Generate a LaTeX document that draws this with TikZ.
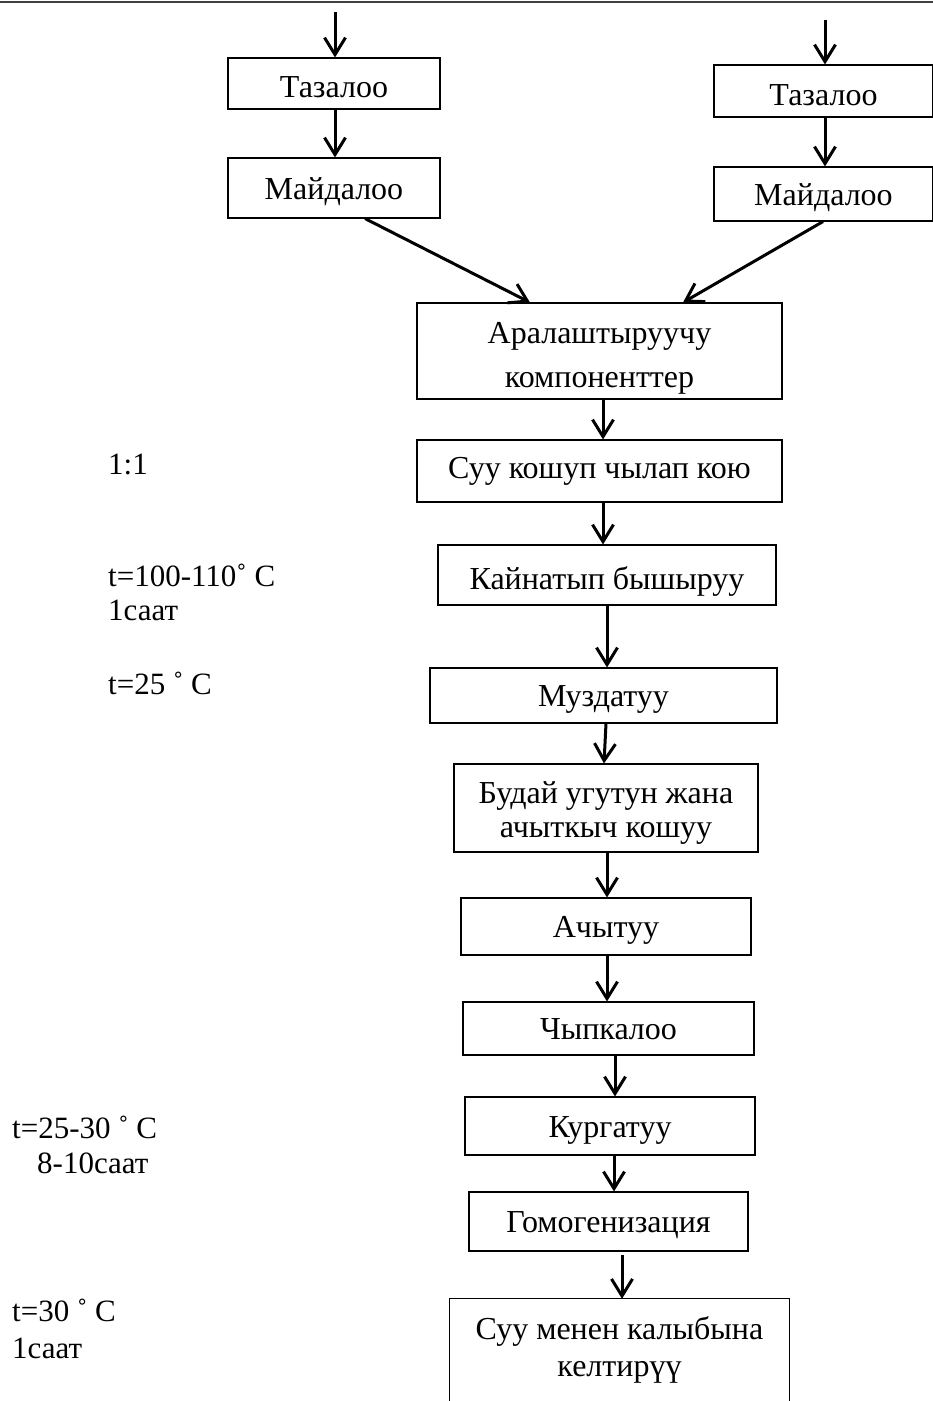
\documentclass[tikz,border=0pt]{standalone}
\usepackage{fontspec}
\setmainfont{Liberation Serif}
\usetikzlibrary{arrows.meta}
\begin{document}
\begin{tikzpicture}[x=1pt,y=-1pt,
  box/.style={draw, line width=1.1pt, inner sep=0pt, align=center, font=\fontsize{32}{38}\selectfont},
  one/.style={text height=25pt, text depth=3pt},
  low/.style={text height=30pt, text depth=2pt},
  arr/.style={line width=3pt, -{Straight Barb[length=17pt,width=21pt]}},
  lbl/.style={anchor=base west, inner sep=0pt, font=\fontsize{31}{37}\selectfont}]
\clip (0,0) rectangle (933,1401);
\fill[white] (0,0) rectangle (933,1401);
\draw[line width=2pt, black!75] (0,2) -- (933,2);

% left branch
\node[box, low, minimum width=212pt, minimum height=51pt] (t1) at (334,83.5) {Тазалоо};
\node[box, one, minimum width=212pt, minimum height=60pt] (m1) at (334,188) {Майдалоо};
% right branch
\node[box, low, minimum width=219pt, minimum height=52pt] (t2) at (823.5,91) {Тазалоо};
\node[box, one, minimum width=219pt, minimum height=54pt] (m2) at (823.5,194) {Майдалоо};

% main column
\node[box, minimum width=365pt, minimum height=96pt, font=\fontsize{32}{44}\selectfont] (ar) at (599.5,351) {\rule{0pt}{36pt}Аралаштыруучу\\компоненттер};
\node[box, text height=21pt, text depth=7pt, minimum width=365pt, minimum height=62pt] (suu) at (599.5,471) {Суу кошуп чылап кою};
\node[box, low, minimum width=338pt, minimum height=60pt] (kay) at (607,575) {Кайнатып бышыруу};
\node[box, one, minimum width=347pt, minimum height=55pt] (muz) at (603.5,695.5) {Муздатуу};
\node[box, minimum width=304pt, minimum height=88pt, font=\fontsize{32}{34}\selectfont] (bud) at (606,808) {\rule{0pt}{32pt}Будай угутун жана\\ачыткыч кошуу};
\node[box, one, minimum width=290pt, minimum height=57pt] (ach) at (606,926.5) {Ачытуу};
\node[box, one, minimum width=291pt, minimum height=53pt] (chy) at (608.5,1028.5) {Чыпкалоо};
\node[box, one, minimum width=290pt, minimum height=58pt] (kur) at (610,1126) {Кургатуу};
\node[box, one, minimum width=279pt, minimum height=59pt] (gom) at (608.5,1221.5) {Гомогенизация};
\node[inner sep=0pt, align=center, font=\fontsize{32}{37}\selectfont, minimum width=339pt, minimum height=102pt] (last) at (619.5,1350) {Суу менен калыбына\\келтирүү};
\draw[line width=1.1pt] (last.south west) -- (last.north west) -- (last.north east) -- (last.south east);

% arrows
\coordinate (s1) at (335,12);
\coordinate (s2) at (825,20);
\draw[arr] (s1) -- (s1 |- t1.north);
\draw[arr] (t1.south -| s1) -- (m1.north -| s1);
\draw[arr] (s2) -- (s2 |- t2.north);
\draw[arr] (t2.south -| s2) -- (m2.north -| s2);
\draw[arr] (m1.south -| 365,0) -- (ar.north -| 530,0);
\draw[arr] (m2.south -| 823,0) -- (ar.north -| 683,0);
\draw[arr] (ar.south -| 603,0) -- (suu.north -| 603,0);
\draw[arr] (suu.south -| 603,0) -- (kay.north -| 603,0);
\draw[arr] (kay.south -| 607,0) -- (muz.north -| 607,0);
\draw[arr] (muz.south -| 606,0) -- (bud.north -| 604,0);
\draw[arr] (bud.south -| 607,0) -- (ach.north -| 607,0);
\draw[arr] (ach.south -| 607,0) -- (chy.north -| 607,0);
\draw[arr] (chy.south -| 615,0) -- (kur.north -| 615,0);
\draw[arr] (kur.south -| 614,0) -- (gom.north -| 614,0);
\draw[arr] (622,1255) coordinate (g0) -- (last.north -| g0);

% labels
\node[lbl] (l1) at (108,474) {1:1};
\node[lbl] (l2) at (108,586) {t=100-110˚ C};
\node[lbl] (l3) at (108,620) {1саат};
\node[lbl] (l4) at (108,694) {t=25 ˚ C};
\node[lbl] (l5) at (12,1138) {t=25-30 ˚ C};
\node[lbl] (l6) at (37,1173) {8-10саат};
\node[lbl] (l7) at (12,1321) {t=30 ˚ C};
\node[lbl] (l8) at (12,1358) {1саат};
\end{tikzpicture}
\end{document}
